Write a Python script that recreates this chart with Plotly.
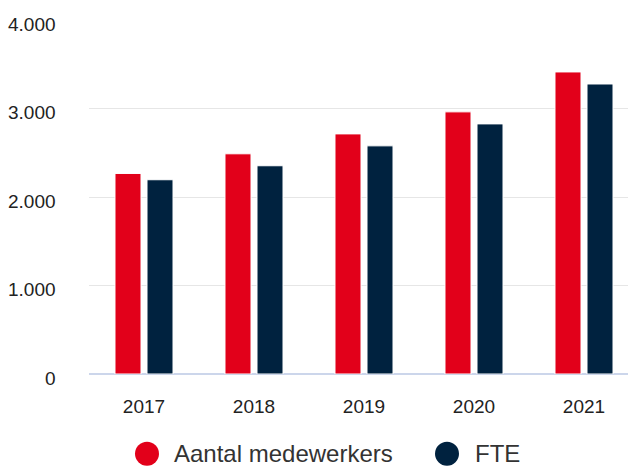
import plotly.graph_objects as go

years = ["2017", "2018", "2019", "2020", "2021"]
medewerkers = [2266, 2488, 2713, 2962, 3413]
fte = [2195, 2353, 2578, 2826, 3277]
y_ticks = [0, 1000, 2000, 3000, 4000]
y_tick_labels = ["0", "1.000", "2.000", "3.000", "4.000"]
series_names = ["Aantal medewerkers", "FTE"]

RED = "#e2001a"
NAVY = "#00223f"
FONT = "Liberation Sans, Arial, sans-serif"
TEXT = "#222222"

fig = go.Figure()
fig.add_trace(go.Bar(x=years, y=medewerkers, name=series_names[0],
                     marker=dict(color=RED, line=dict(color="white", width=1))))
fig.add_trace(go.Bar(x=years, y=fte, name=series_names[1],
                     marker=dict(color=NAVY, line=dict(color="white", width=1))))

# y-axis labels sit slightly below their grid lines
for v, lab in zip(y_ticks, y_tick_labels):
    fig.add_annotation(x=0, xref="paper", xanchor="right", xshift=-31,
                       y=v, yref="y", yanchor="middle", yshift=-4,
                       text=lab, showarrow=False,
                       font=dict(family=FONT, size=19, color=TEXT))

# legend: round swatches with labels below the plot
legend_y = -0.225
for name, col, cx, tx in [(series_names[0], RED, 0.1076, 0.1558),
                          (series_names[1], NAVY, 0.6642, 0.7143)]:
    fig.add_shape(type="circle", xref="paper", yref="paper",
                  xsizemode="pixel", ysizemode="pixel",
                  xanchor=cx, yanchor=legend_y,
                  x0=-12, x1=12, y0=-12, y1=12,
                  fillcolor=col, line=dict(width=0))
    fig.add_annotation(x=tx, xref="paper", xanchor="left",
                       y=legend_y, yref="paper", yanchor="middle",
                       text=name, showarrow=False, borderpad=0,
                       font=dict(family=FONT, size=24, color="#333333"))

fig.update_layout(
    width=628, height=469,
    margin=dict(l=89, r=0, t=20, b=95),
    paper_bgcolor="white", plot_bgcolor="white",
    barmode="group", bargap=0.418, bargroupgap=0.1875,
    font=dict(family=FONT, size=19, color=TEXT),
    showlegend=False,
)
fig.update_xaxes(type="category", range=[-0.5, 4.4], showgrid=False,
                 showline=False, ticks="", tickfont=dict(size=19, color=TEXT),
                 ticklabelstandoff=19)
fig.update_yaxes(range=[0, 4000], tickvals=y_ticks, showticklabels=False,
                 showgrid=True, gridcolor="#e6e6e6", gridwidth=1,
                 zeroline=True, zerolinecolor="#ccd6eb", zerolinewidth=2,
                 showline=False, ticks="")

fig.write_html("out.html")
